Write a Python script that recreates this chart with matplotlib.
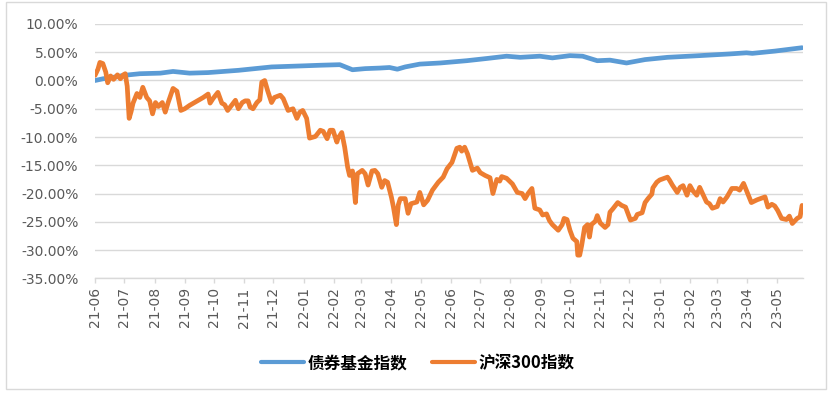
import matplotlib
matplotlib.use("Agg")
import matplotlib.pyplot as plt
import matplotlib.dates as mdates
from matplotlib.patches import Rectangle
from matplotlib.ticker import FuncFormatter
import pandas as pd

# 债券基金指数 (cumulative return, %)
bond_dates = ["2021-06-01", "2021-06-09", "2021-06-21", "2021-06-30", "2021-07-17",
              "2021-08-07", "2021-08-20", "2021-09-06", "2021-09-25", "2021-10-26",
              "2021-11-29", "2022-01-02", "2022-01-18", "2022-02-07", "2022-02-20",
              "2022-03-05", "2022-03-20", "2022-03-30", "2022-04-07", "2022-04-15",
              "2022-04-30", "2022-05-21", "2022-06-17", "2022-07-08", "2022-07-28",
              "2022-08-11", "2022-08-31", "2022-09-13", "2022-10-01", "2022-10-14",
              "2022-10-29", "2022-11-11", "2022-11-28", "2022-12-17", "2023-01-09",
              "2023-02-11", "2023-03-14", "2023-03-31", "2023-04-06", "2023-04-29",
              "2023-05-27"]
bond_vals = [0.0, 0.3, 0.6, 0.9, 1.2,
             1.3, 1.6, 1.3, 1.4, 1.8,
             2.4, 2.6, 2.7, 2.8, 1.9,
             2.1, 2.2, 2.3, 2.0, 2.4,
             2.9, 3.1, 3.5, 3.9, 4.3,
             4.1, 4.3, 4.0, 4.4, 4.3,
             3.5, 3.6, 3.1, 3.7, 4.1,
             4.4, 4.7, 4.9, 4.8, 5.2,
             5.8]

# 沪深300指数 (cumulative return, %)
csi_dates = ["2021-06-01", "2021-06-04", "2021-06-06", "2021-06-09", "2021-06-12",
             "2021-06-14", "2021-06-17", "2021-06-20", "2021-06-24", "2021-06-27",
             "2021-06-30", "2021-07-02", "2021-07-04", "2021-07-06", "2021-07-08",
             "2021-07-10", "2021-07-14", "2021-07-17", "2021-07-20", "2021-07-24",
             "2021-07-27", "2021-07-30", "2021-08-02", "2021-08-05", "2021-08-09",
             "2021-08-12", "2021-08-15", "2021-08-20", "2021-08-24", "2021-08-28",
             "2021-09-01", "2021-09-06", "2021-09-14", "2021-09-20", "2021-09-25",
             "2021-09-27", "2021-09-30", "2021-10-05", "2021-10-09", "2021-10-12",
             "2021-10-15", "2021-10-19", "2021-10-23", "2021-10-26", "2021-10-30",
             "2021-11-02", "2021-11-05", "2021-11-07", "2021-11-10", "2021-11-14",
             "2021-11-17", "2021-11-19", "2021-11-22", "2021-11-25", "2021-11-29",
             "2021-12-02", "2021-12-08", "2021-12-11", "2021-12-16", "2021-12-21",
             "2021-12-25", "2021-12-28", "2021-12-31", "2022-01-04", "2022-01-07",
             "2022-01-13", "2022-01-18", "2022-01-21", "2022-01-25", "2022-01-28",
             "2022-01-31", "2022-02-04", "2022-02-05", "2022-02-09", "2022-02-12",
             "2022-02-15", "2022-02-17", "2022-02-20", "2022-02-23", "2022-02-25",
             "2022-03-02", "2022-03-05", "2022-03-08", "2022-03-12", "2022-03-15",
             "2022-03-18", "2022-03-22", "2022-03-25", "2022-03-28", "2022-04-01",
             "2022-04-03", "2022-04-06", "2022-04-08", "2022-04-10", "2022-04-15",
             "2022-04-18", "2022-04-21", "2022-04-27", "2022-04-30", "2022-05-04",
             "2022-05-08", "2022-05-13", "2022-05-19", "2022-05-24", "2022-05-28",
             "2022-06-02", "2022-06-05", "2022-06-07", "2022-06-10", "2022-06-12",
             "2022-06-15", "2022-06-18", "2022-06-23", "2022-06-28", "2022-07-01",
             "2022-07-06", "2022-07-11", "2022-07-14", "2022-07-18", "2022-07-21",
             "2022-07-23", "2022-07-28", "2022-07-31", "2022-08-03", "2022-08-08",
             "2022-08-13", "2022-08-16", "2022-08-19", "2022-08-23", "2022-08-26",
             "2022-08-31", "2022-09-03", "2022-09-07", "2022-09-10", "2022-09-13",
             "2022-09-19", "2022-09-23", "2022-09-25", "2022-09-28", "2022-10-01",
             "2022-10-04", "2022-10-08", "2022-10-09", "2022-10-11", "2022-10-13",
             "2022-10-16", "2022-10-19", "2022-10-21", "2022-10-23", "2022-10-27",
             "2022-10-29", "2022-11-01", "2022-11-06", "2022-11-09", "2022-11-11",
             "2022-11-14", "2022-11-19", "2022-11-23", "2022-11-27", "2022-12-02",
             "2022-12-07", "2022-12-09", "2022-12-14", "2022-12-17", "2022-12-20",
             "2022-12-24", "2022-12-25", "2022-12-29", "2023-01-01", "2023-01-09",
             "2023-01-11", "2023-01-14", "2023-01-19", "2023-01-22", "2023-01-25",
             "2023-01-29", "2023-02-01", "2023-02-04", "2023-02-08", "2023-02-11",
             "2023-02-14", "2023-02-18", "2023-02-21", "2023-02-24", "2023-03-01",
             "2023-03-04", "2023-03-07", "2023-03-11", "2023-03-16", "2023-03-21",
             "2023-03-24", "2023-03-28", "2023-04-01", "2023-04-05", "2023-04-11",
             "2023-04-16", "2023-04-19", "2023-04-22", "2023-04-26", "2023-04-29",
             "2023-05-02", "2023-05-06", "2023-05-11", "2023-05-14", "2023-05-17",
             "2023-05-22", "2023-05-25", "2023-05-27"]
csi_vals = [0.9, 2.0, 3.2, 3.0, 1.5,
            -0.4, 0.8, 0.2, 1.0, 0.3,
            1.0, 1.2, -1.0, -6.7, -5.5,
            -4.0, -2.3, -3.0, -1.2, -3.0,
            -3.6, -5.9, -3.9, -4.6, -3.9,
            -5.6, -3.9, -1.4, -1.9, -5.3,
            -5.0, -4.4, -3.6, -3.0, -2.4,
            -4.0, -3.2, -2.1, -4.0, -4.3,
            -5.3, -4.4, -3.5, -5.0, -3.9,
            -3.6, -3.6, -4.7, -5.0, -3.9,
            -3.4, -0.3, 0.0, -1.8, -3.9,
            -3.0, -2.6, -3.2, -5.3, -5.0,
            -6.7, -5.6, -5.3, -6.7, -10.2,
            -9.9, -8.8, -9.0, -10.3, -8.8,
            -8.8, -10.9, -10.3, -9.2, -11.8,
            -15.3, -16.8, -16.0, -21.6, -16.5,
            -15.9, -16.5, -18.5, -16.0, -15.9,
            -16.5, -18.9, -17.7, -18.0, -20.7,
            -22.4, -25.5, -22.0, -20.9, -20.9,
            -23.5, -21.8, -21.5, -19.8, -22.0,
            -21.2, -19.4, -18.0, -17.1, -15.6,
            -14.5, -13.0, -12.0, -11.8, -12.5,
            -11.8, -13.0, -15.9, -15.5, -16.3,
            -16.8, -17.2, -20.0, -17.5, -17.8,
            -17.0, -17.3, -17.8, -18.3, -19.8,
            -20.0, -20.9, -20.0, -19.1, -22.6,
            -22.9, -23.8, -23.6, -24.8, -25.5,
            -26.5, -25.5, -24.4, -24.6, -26.5,
            -27.9, -28.5, -30.9, -30.9, -29.2,
            -26.0, -25.5, -27.7, -25.5, -24.9,
            -23.9, -25.2, -26.0, -25.5, -23.3,
            -22.7, -21.6, -22.1, -22.4, -24.7,
            -24.4, -23.7, -23.4, -21.6, -20.9,
            -20.1, -19.0, -18.0, -17.6, -17.1,
            -17.6, -18.5, -19.8, -18.9, -18.6,
            -20.3, -18.6, -19.5, -20.3, -18.9,
            -20.0, -21.5, -21.8, -22.6, -22.3,
            -20.9, -21.5, -20.6, -19.1, -19.1,
            -19.4, -18.2, -19.9, -21.6, -21.1,
            -20.8, -20.6, -22.4, -21.9, -22.2,
            -23.0, -24.4, -24.6, -24.0, -25.3,
            -24.4, -24.1, -22.1]

series_names = ["债券基金指数", "沪深300指数"]
y_ticks = [10, 5, 0, -5, -10, -15, -20, -25, -30, -35]

plt.rcParams['font.family'] = ['DejaVu Sans', 'Noto Sans CJK SC']

fig = plt.figure(figsize=(8.32, 3.95), dpi=100)
ax = fig.add_axes([0.1142, 0.2954, 0.8510, 0.6439])

# outer frame like the Excel chart area
fig.patches.append(Rectangle((0.0072, 0.0152), 0.9850, 0.9810, transform=fig.transFigure,
                             fill=False, edgecolor="#d9d9d9", linewidth=1.0))

ax.plot(pd.to_datetime(bond_dates), bond_vals, color="#5B9BD5", linewidth=3.4,
        solid_joinstyle="round", solid_capstyle="round", label=series_names[0], zorder=3)
ax.plot(pd.to_datetime(csi_dates), csi_vals, color="#ED7D31", linewidth=3.4,
        solid_joinstyle="round", solid_capstyle="round", label=series_names[1], zorder=4)

ax.set_ylim(-35, 10)
ax.set_yticks(y_ticks)
ax.yaxis.set_major_formatter(FuncFormatter(lambda v, p: "%.2f%%" % v))
ax.set_xlim(pd.Timestamp("2021-06-01"), pd.Timestamp("2023-05-28"))
ax.xaxis.set_major_locator(mdates.MonthLocator())
ax.xaxis.set_major_formatter(mdates.DateFormatter("%y-%m"))

ax.grid(axis="y", color="#d9d9d9", linewidth=1.0)
ax.set_axisbelow(True)
for s in ["left", "right", "top"]:
    ax.spines[s].set_visible(False)
ax.spines["bottom"].set_color("#d9d9d9")
ax.spines["bottom"].set_linewidth(1.0)

ax.tick_params(axis="y", length=0, pad=12, labelsize=10, labelcolor="#595959")
ax.tick_params(axis="x", length=3.5, width=1.0, color="#d9d9d9", pad=3,
               labelsize=10, labelcolor="#595959", labelrotation=90)

leg = fig.legend(loc="center", bbox_to_anchor=(0.502, 0.081), ncol=2, frameon=False,
                 handlelength=2.6, handletextpad=0.2, columnspacing=1.45,
                 prop={"family": ["Noto Sans CJK SC"], "weight": "bold", "size": 12})
for line in leg.get_lines():
    line.set_linewidth(3.0)

fig.savefig("out.png", dpi=100)
